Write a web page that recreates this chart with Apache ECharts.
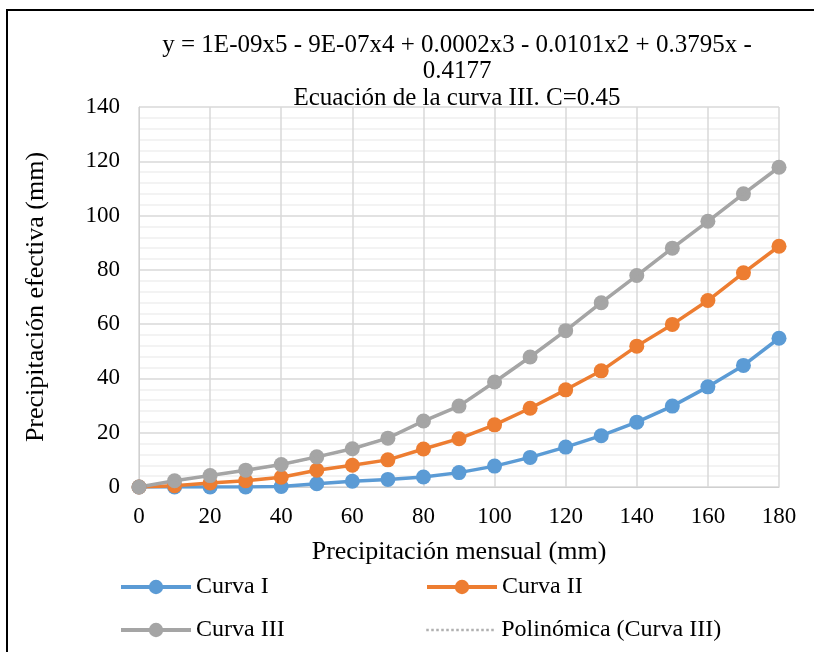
<!DOCTYPE html>
<html>
<head>
<meta charset="utf-8">
<script src="https://cdn.jsdelivr.net/npm/echarts@6/dist/echarts.min.js"></script>
<style>
html,body{margin:0;padding:0;background:#fff;}
#chart{width:814px;height:652px;}
</style>
</head>
<body>
<div id="chart"></div>
<script>
// Data
const xValues = [0,10,20,30,40,50,60,70,80,90,100,110,120,130,140,150,160,170,180];
const curvaI   = [0,0,0,0,0.2,1.2,2.1,2.8,3.7,5.3,7.7,10.9,14.7,18.9,23.9,29.8,36.9,44.8,54.8];
const curvaII  = [0,0.5,1.5,2.3,3.6,6.2,8,10,14,17.8,22.9,29,35.8,42.8,51.9,59.9,68.7,78.9,88.7];
const curvaIII = [0,2.3,4.2,6.2,8.3,11.1,14.1,18,24.3,29.8,38.7,47.9,57.6,67.9,77.9,88,97.9,108,117.8];
const trendIII = [0,2.2,4.3,6.1,8.2,11.0,14.0,18.2,24.0,30.0,38.8,48.0,57.7,67.8,77.9,88,97.9,108,117.8];
const titleLines = ['y = 1E-09x5 - 9E-07x4 + 0.0002x3 - 0.0101x2 + 0.3795x -', '0.4177', 'Ecuación de la curva III. C=0.45'];
const seriesNames = ['Curva I','Curva II','Curva III','Polinómica (Curva III)'];
const xName = 'Precipitación mensual (mm)';
const yName = 'Precipitación efectiva (mm)';

const pairs = arr => xValues.map((x,i)=>[x, arr[i]]);
const FONT = '"Liberation Serif", "Times New Roman", serif';
const colors = ['#5b9bd5','#ed7d31','#a5a5a5','#a5a5a5'];

const chart = echarts.init(document.getElementById('chart'), null, {renderer:'canvas'});

function lineSeries(name, data, color){
  return {
    name, type:'line', data: pairs(data),
    symbol:'circle', symbolSize:15,
    lineStyle:{color, width:3.5},
    itemStyle:{color},
    z:3
  };
}

const legendPos = [
  {left:114, top:570},
  {left:420, top:570},
  {left:114, top:613},
  {left:420, top:613}
];

chart.setOption({
  animation:false,
  backgroundColor:'#fff',
  color: colors,
  legend: seriesNames.map((n,i)=>{
    const isTrend = i === 3;
    return {
      data:[n], left:legendPos[i].left, top:legendPos[i].top,
      itemWidth:70, itemHeight:18, itemGap:8,
      lineStyle: isTrend ? {width:2.5, type:'dotted', color:'#b0b0b0'} : {width:4},
      itemStyle: isTrend ? {opacity:0, borderWidth:0} : {},
      textStyle:{fontFamily:FONT, fontSize:24, color:'#000'}
    };
  }),
  grid:{left:139, right:35, top:107, bottom:165, containLabel:false},
  xAxis:{
    type:'value', min:0, max:180, interval:20,
    name:xName, nameLocation:'middle', nameGap:52,
    nameTextStyle:{fontFamily:FONT, fontSize:26, color:'#000'},
    axisLine:{show:true, lineStyle:{color:'#d0d0d0', width:1}},
    axisTick:{show:false},
    axisLabel:{fontFamily:FONT, fontSize:23, color:'#000', margin:18},
    splitLine:{show:true, lineStyle:{color:'#d9d9d9', width:1.5}}
  },
  yAxis:{
    type:'value', min:0, max:140, interval:20,
    name:yName, nameLocation:'middle', nameGap:90,
    nameTextStyle:{fontFamily:FONT, fontSize:26, color:'#000'},
    axisLine:{show:true, lineStyle:{color:'#d0d0d0', width:1}},
    axisTick:{show:false},
    axisLabel:{fontFamily:FONT, fontSize:23, color:'#000', margin:19},
    splitLine:{show:true, lineStyle:{color:'#d9d9d9', width:1.5}},
    minorTick:{show:false, splitNumber:5},
    minorSplitLine:{show:true, lineStyle:{color:'#efefef', width:1.5}}
  },
  graphic:[
    {
      type:'text', x:457, y:32, silent:true,
      style:{
        text: titleLines.join('\n'),
        align:'center', verticalAlign:'top',
        font: '25px ' + FONT, fill:'#000', lineHeight:26.5
      }
    },
    {
      type:'rect', shape:{x:7, y:10, width:900, height:800},
      style:{fill:'none', stroke:'#000', lineWidth:2}, silent:true, z:100
    }
  ],
  series:[
    lineSeries(seriesNames[0], curvaI, colors[0]),
    lineSeries(seriesNames[1], curvaII, colors[1]),
    lineSeries(seriesNames[2], curvaIII, colors[2]),
    {
      name:seriesNames[3], type:'line', data:pairs(trendIII),
      symbol:'none', showSymbol:false,
      lineStyle:{color:'#a5a5a5', width:2, type:'dotted'},
      itemStyle:{color:'#a5a5a5'},
      z:4
    }
  ]
});
</script>
</body>
</html>
